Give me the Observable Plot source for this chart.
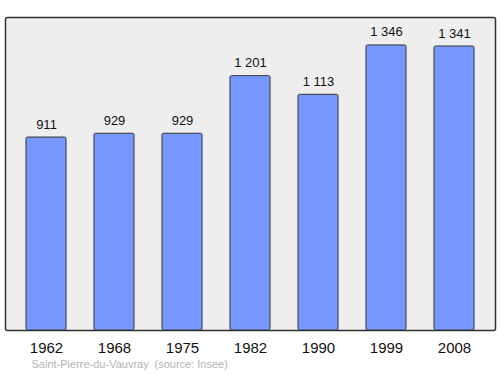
<!DOCTYPE html>
<html>
<head>
<meta charset="utf-8">
<script src="https://cdn.jsdelivr.net/npm/d3@7"></script>
<script src="https://cdn.jsdelivr.net/npm/@observablehq/plot@0.6"></script>
<style>
  html, body { margin: 0; padding: 0; background: #fff; }
  svg { display: block; }
</style>
</head>
<body>
<div id="chart"></div>
<script>
const years = ["1962", "1968", "1975", "1982", "1990", "1999", "2008"];
const population = [911, 929, 929, 1201, 1113, 1346, 1341];
const commune = "Saint-Pierre-du-Vauvray";
const source = "(source: Insee)";

const data = years.map((y, i) => ({year: y, pop: population[i]}));
const fmt = v => d3.format(",")(v).replace(/,/g, " ");

const chart = Plot.plot({
  width: 500,
  height: 374,
  marginTop: 17,
  marginBottom: 44,
  marginLeft: 5,
  marginRight: 5,
  style: {fontFamily: "'Liberation Sans', Arial, sans-serif", background: "#fff"},
  x: {domain: years, paddingInner: 0.414, paddingOuter: 0.3, label: null},
  y: {domain: [0, 1478], axis: null},
  marks: [
    Plot.frame({fill: "#eeeeee", stroke: "#333", strokeWidth: 1.5, rx: 2}),
    Plot.barY(data, {x: "year", y: "pop", fill: "#7799ff", stroke: "#333", strokeWidth: 1, rx: 1.5}),
    Plot.text(data, {x: "year", y: "pop", text: d => fmt(d.pop), dy: -9, lineAnchor: "bottom", fontSize: 13, fill: "#111"}),
    Plot.axisX({tickSize: 0, tickPadding: 12, fontSize: 15, fill: "#111", label: null}),
    Plot.text([commune], {frameAnchor: "bottom-left", dx: 26, dy: 37, text: d => d, textAnchor: "start", fontSize: 11, fill: "#b4b4b4"}),
    Plot.text([source], {frameAnchor: "bottom-left", dx: 149, dy: 37, text: d => d, textAnchor: "start", fontSize: 11, fill: "#b4b4b4"})
  ]
});
document.getElementById("chart").appendChild(chart);
</script>
</body>
</html>
